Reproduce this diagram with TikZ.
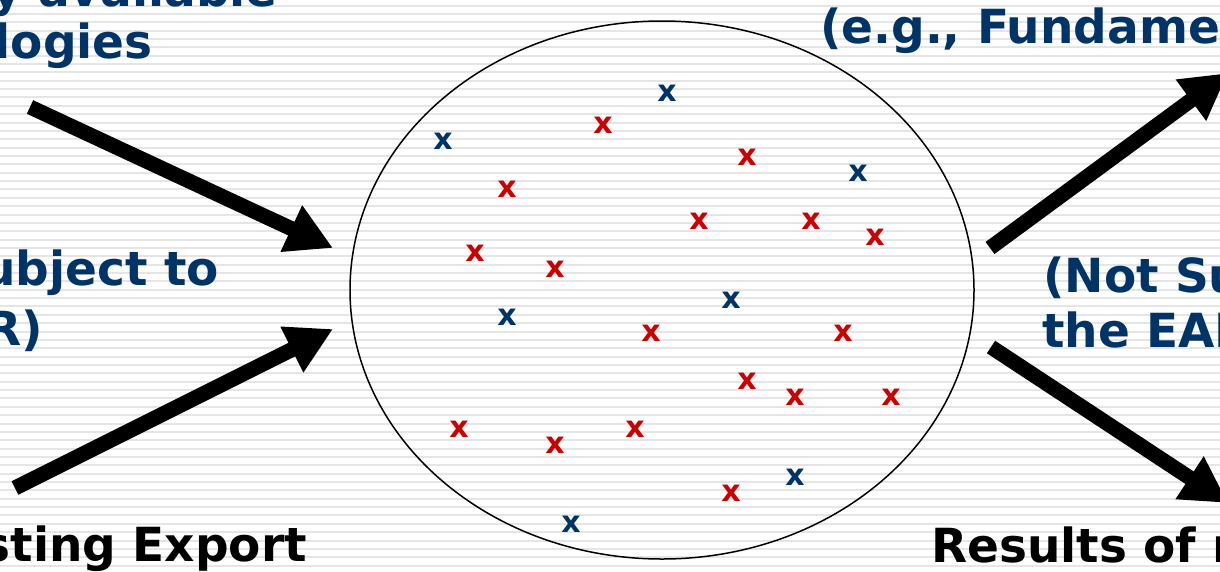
\documentclass[tikz,border=0pt]{standalone}
\usepackage{fontspec}
\setmainfont{DejaVu Sans}
\usetikzlibrary{arrows.meta,shapes.geometric}
\definecolor{navy}{RGB}{0,51,102}
\definecolor{xred}{RGB}{204,0,0}
\definecolor{stripe}{RGB}{229,229,229}
\tikzset{
  lbl/.style={font=\bfseries\fontsize{47}{47}\selectfont, text=navy, inner sep=0pt},
  lblk/.style={lbl, text=black},
  xb/.style={font=\bfseries\fontsize{30}{30}\selectfont, text=navy, inner sep=0pt},
  xr/.style={xb, text=xred},
  bigarrow/.style={line width=15pt, -{Triangle[length=46pt,width=48pt]}},
}
\begin{document}
\begin{tikzpicture}[x=1pt,y=-1pt]
\useasboundingbox (0,0) rectangle (1220,571);
\clip (0,0) rectangle (1220,571);
\fill[white] (0,0) rectangle (1220,571);
\foreach \k in {0,...,68} {
  \draw[stripe, line width=2pt] (0,5.5+8.36*\k) -- (1220,5.5+8.36*\k);
}
% ellipse
\node[draw, ellipse, line width=1.5pt, minimum width=624pt, minimum height=538pt, inner sep=0pt] (ell) at (662,290) {};
% texts
\node[lbl, anchor=base east] (t1a) at (278,6) {y available};
\node[lbl, anchor=base east] (t1b) at (153,58) {logies};
\node[lbl, anchor=base east] (t2a) at (219,285) {ubject to};
\node[lbl, anchor=base east] (t2b) at (43,345) {R)};
\node[lblk, anchor=base east] (t3) at (307,561) {sting Export};
\node[lbl, anchor=base west] (t4) at (820,43) {(e.g., Fundame};
\node[lbl, anchor=base west] (t5a) at (1043,292) {(Not Su};
\node[lbl, anchor=base west] (t5b) at (1042,347) {the EAR};
\node[lblk, anchor=base west] (t6) at (931,562) {Results of r};
% arrows
\coordinate (a1s) at (30,107);   \coordinate (a1e) at (333,248);
\coordinate (a2s) at (15,488);   \coordinate (a2e) at (333,329);
\coordinate (a3s) at (990,248);  \coordinate (a3e) at (1228,73);
\coordinate (a4s) at (991,347);  \coordinate (a4e) at (1228,503);
\draw[bigarrow] (a1s) -- (a1e);
\draw[bigarrow] (a2s) -- (a2e);
\draw[bigarrow] (a3s) -- (a3e);
\draw[bigarrow] (a4s) -- (a4e);
% x marks
\foreach \p/\n in {{(667,93)}/b1,{(443,141)}/b2,{(858,173)}/b3,{(731,300)}/b4,{(507,317)}/b5,{(795,477)}/b6,{(571,524)}/b7}
  \node[xb] (\n) at \p {x};
\foreach \p/\n in {{(603,125)}/r1,{(747,157)}/r2,{(507,189)}/r3,{(699,221)}/r4,{(811,221)}/r5,{(875,237)}/r6,{(475,253)}/r7,{(555,269)}/r8,{(651,333)}/r9,{(843,333)}/r10,{(747,381)}/r11,{(795,397)}/r12,{(891,397)}/r13,{(459,429)}/r14,{(635,429)}/r15,{(555,445)}/r16,{(731,493)}/r17}
  \node[xr] (\n) at \p {x};
\end{tikzpicture}
\end{document}
